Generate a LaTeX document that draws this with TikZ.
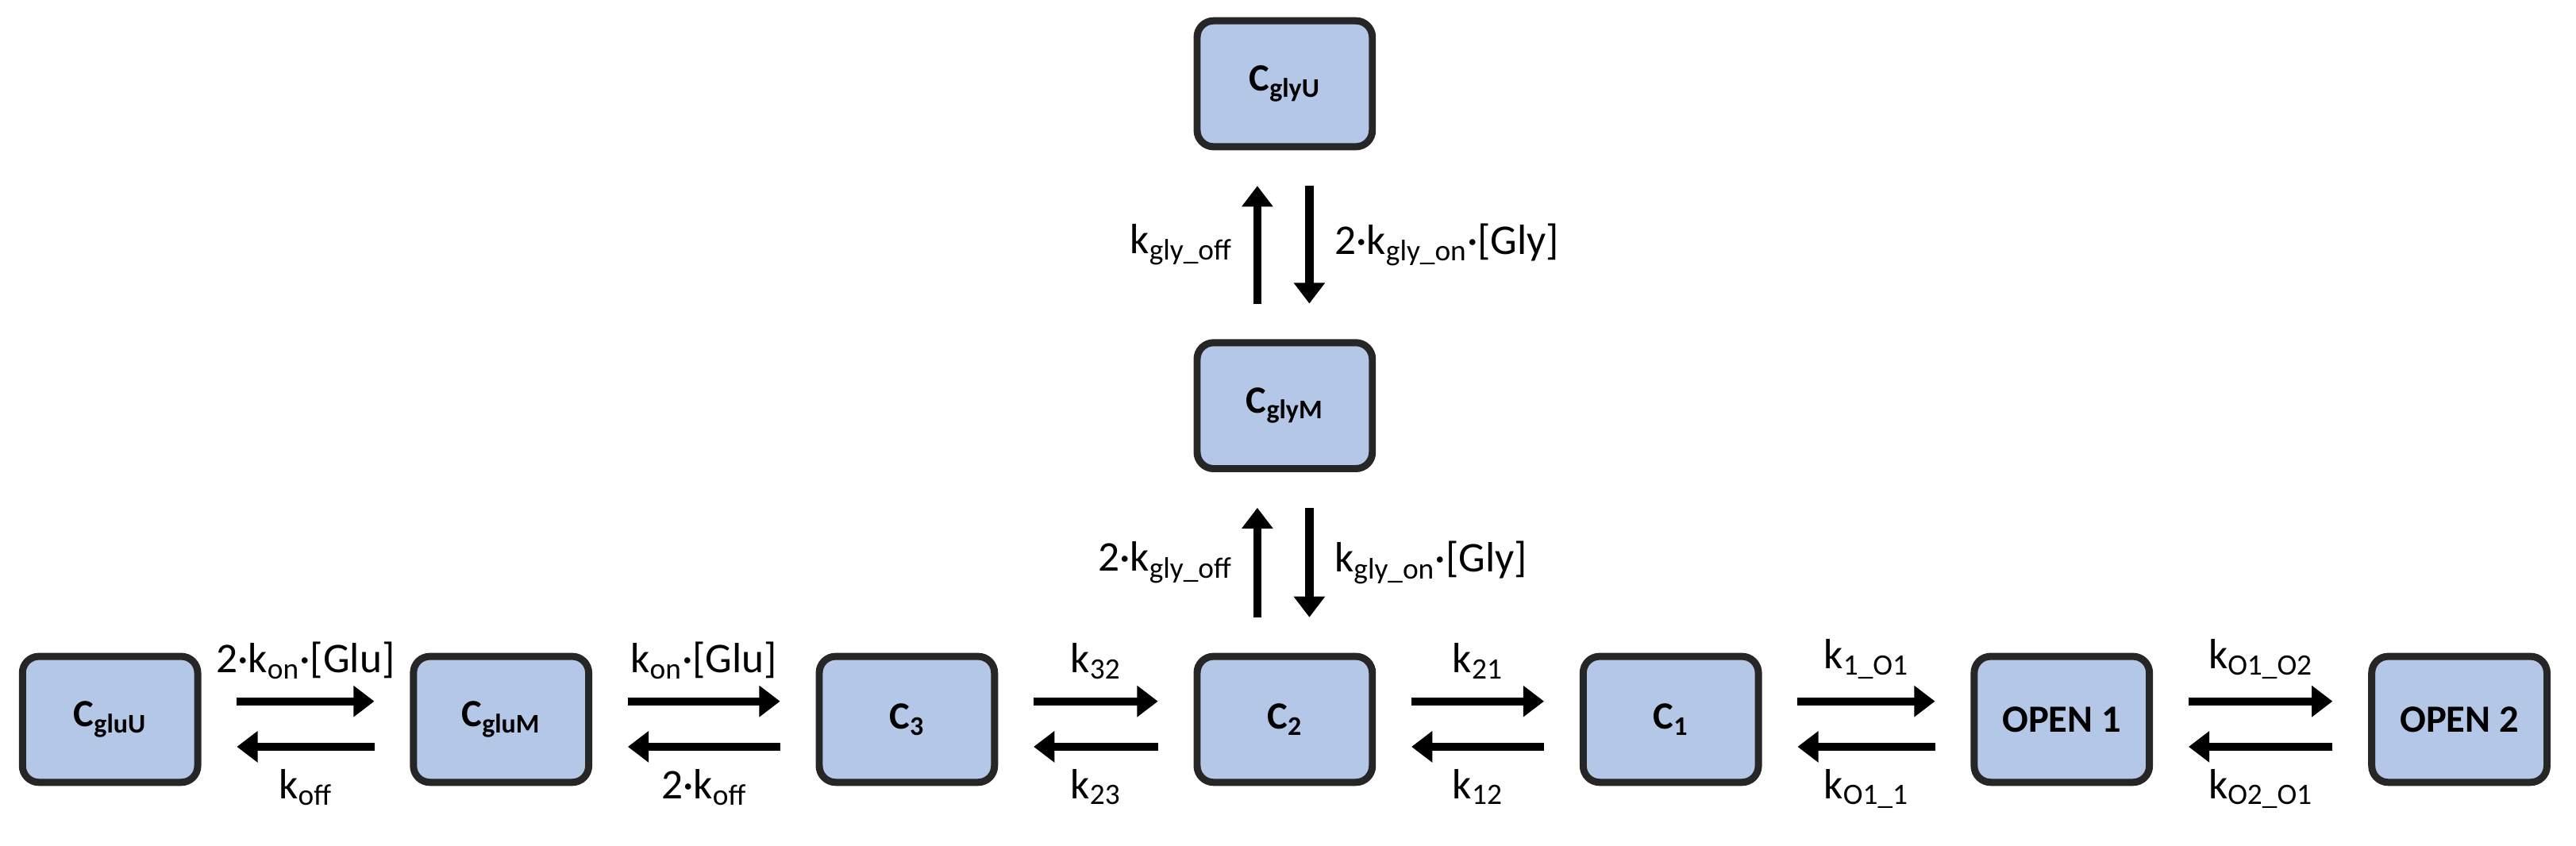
\documentclass[tikz,border=0pt]{standalone}
\usepackage{fontspec}
\setmainfont{Carlito}
\usetikzlibrary{arrows.meta}
\begin{document}
\begin{tikzpicture}[x=0.03cm,y=-0.03cm,
  box/.style={draw=black!85,line width=0.13cm,fill={rgb,255:red,180;green,199;blue,231},rounded corners=0.3cm,minimum width=3.2cm,minimum height=2.3cm,font=\fontsize{20}{24}\selectfont\bfseries},
  arr/.style={line width=0.15cm,-{Triangle[length=0.38cm,width=0.55cm]},shorten <=0.65cm,shorten >=0.65cm},
  lab/.style={font=\fontsize{22}{26}\selectfont,inner sep=1pt}]
\useasboundingbox (0,0) rectangle (1568,515);
\node[box] (gu) at (67,438) {C\textsubscript{gluU}};
\node[box] (gm) at (305,438) {C\textsubscript{gluM}};
\node[box] (c3) at (552,438) {C\textsubscript{3}};
\node[box] (c2) at (782,438) {C\textsubscript{2}};
\node[box] (c1) at (1017,438) {C\textsubscript{1}};
\node[box] (o1) at (1255,438) {OPEN 1};
\node[box] (o2) at (1497,438) {OPEN 2};
\node[box] (yu) at (782,51) {C\textsubscript{glyU}};
\node[box] (ym) at (782,247) {C\textsubscript{glyM}};
\foreach \a/\b/\t/\u in {gu/gm/{2·k\textsubscript{on}·[Glu]}/{k\textsubscript{off}},
  gm/c3/{k\textsubscript{on}·[Glu]}/{2·k\textsubscript{off}},
  c3/c2/{k\textsubscript{32}}/{k\textsubscript{23}},
  c2/c1/{k\textsubscript{21}}/{k\textsubscript{12}},
  c1/o1/{k\textsubscript{1\_O1}}/{k\textsubscript{O1\_1}},
  o1/o2/{k\textsubscript{O1\_O2}}/{k\textsubscript{O2\_O1}}}{
  \draw[arr] ([yshift=0.33cm]\a.east) -- node[lab,midway,above=0.3cm]{\t} ([yshift=0.33cm]\b.west);
  \draw[arr] ([yshift=-0.5cm]\b.west) -- node[lab,midway,below=0.3cm]{\u} ([yshift=-0.5cm]\a.east);
}
\draw[arr] ([xshift=-0.5cm]ym.north) -- node[lab,midway,left=0.35cm]{k\textsubscript{gly\_off}} ([xshift=-0.5cm]yu.south);
\draw[arr] ([xshift=0.45cm]yu.south) -- node[lab,midway,right=0.35cm]{2·k\textsubscript{gly\_on}·[Gly]} ([xshift=0.45cm]ym.north);
\draw[arr] ([xshift=-0.5cm]c2.north) -- node[lab,midway,left=0.35cm]{2·k\textsubscript{gly\_off}} ([xshift=-0.5cm]ym.south);
\draw[arr] ([xshift=0.45cm]ym.south) -- node[lab,midway,right=0.35cm]{k\textsubscript{gly\_on}·[Gly]} ([xshift=0.45cm]c2.north);
\end{tikzpicture}
\end{document}
